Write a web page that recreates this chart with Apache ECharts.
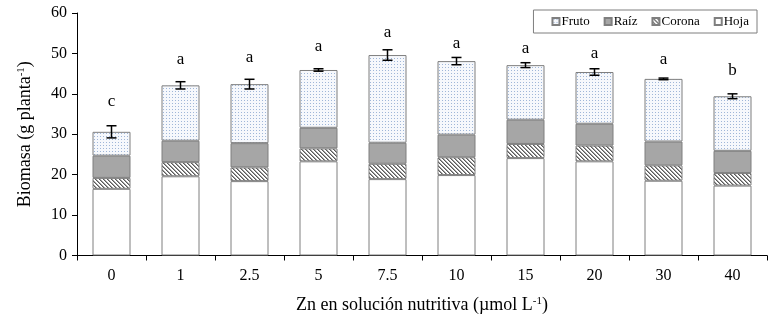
<!DOCTYPE html>
<html>
<head>
<meta charset="utf-8">
<script src="https://cdn.jsdelivr.net/npm/echarts@6/dist/echarts.min.js"></script>
<style>html,body{margin:0;padding:0;background:#fff;}#c{width:784px;height:319px;}</style>
</head>
<body>
<div id="c"></div>
<script>
const categories = ['0','1','2.5','5','7.5','10','15','20','30','40'];
const hoja   = [16.5,19.6,18.4,23.3,18.9,19.9,24.1,23.3,18.5,17.3];
const corona = [2.7,3.5,3.4,3.2,3.8,4.4,3.5,3.9,3.8,3.1];
const raiz   = [5.5,5.3,6.0,5.1,5.2,5.6,6.0,5.4,5.9,5.5];
const fruto  = [5.9,13.7,14.6,14.3,21.7,18.2,13.5,12.8,15.5,13.5];
const errs   = [1.5,0.9,1.2,0.3,1.3,0.9,0.6,0.8,0.2,0.6];
const letters = ['c','a','a','a','a','a','a','a','a','b'];
const letterY = [38.1,48.5,48.9,51.6,55.1,52.5,51.2,49.9,48.5,45.7];

function makeTile(w, h, bg, pixels) {
  const cv = document.createElement('canvas');
  cv.width = w; cv.height = h;
  const ctx = cv.getContext('2d');
  ctx.fillStyle = bg; ctx.fillRect(0, 0, w, h);
  pixels.forEach(p => { ctx.fillStyle = p[2]; ctx.fillRect(p[0], p[1], 1, 1); });
  return cv;
}
const frutoTile = makeTile(3, 3, '#f6f8fc', [[1,1,'#9fb6d8']]);
const coronaTile = makeTile(4, 4, '#ffffff', [
  [0,0,'#5a5a5a'],[1,1,'#5a5a5a'],[2,2,'#5a5a5a'],[3,3,'#5a5a5a'],
  [1,0,'#a0a0a0'],[2,1,'#a0a0a0'],[3,2,'#a0a0a0'],[0,3,'#a0a0a0']
]);

const totals = categories.map((c, i) => hoja[i] + corona[i] + raiz[i] + fruto[i]);
const serif = 'Liberation Serif';
const border = { borderColor: '#7f7f7f', borderWidth: 1 };

const chart = echarts.init(document.getElementById('c'), null, { renderer: 'canvas' });
chart.setOption({
  animation: false,
  backgroundColor: '#fff',
  textStyle: { fontFamily: serif },
  grid: { left: 77, right: 17, top: 13, bottom: 62 },
  legend: {
    data: ['Fruto', 'Raíz', 'Corona', 'Hoja'],
    right: 27, top: 10,
    orient: 'horizontal',
    borderColor: '#7f7f7f', borderWidth: 1,
    padding: [5, 8, 5, 18],
    itemWidth: 7, itemHeight: 7, itemGap: 14,
    icon: 'rect',
    formatter: '{t|{name}}',
    textStyle: {
      fontFamily: serif, fontSize: 13, color: '#000',
      rich: { t: { fontFamily: serif, fontSize: 13, color: '#000', padding: [0, 0, 0, -3] } }
    }
  },
  xAxis: {
    type: 'category',
    data: categories,
    name: 'Zn en solución nutritiva (µmol L{sup|-1})',
    nameLocation: 'middle',
    nameGap: 40,
    nameTextStyle: {
      fontFamily: serif, fontSize: 18, color: '#000',
      rich: { sup: { fontFamily: serif, fontSize: 11, color: '#000', verticalAlign: 'top', padding: [0, 0, 8, 0] } }
    },
    axisLine: { lineStyle: { color: '#000', width: 1 } },
    axisTick: { show: true, length: 5, lineStyle: { color: '#000' } },
    axisLabel: { fontFamily: serif, fontSize: 16, color: '#000', margin: 12 }
  },
  yAxis: {
    type: 'value',
    min: 0, max: 60, interval: 10,
    name: 'Biomasa (g planta{sup|-1})',
    nameLocation: 'middle',
    nameGap: 42,
    nameTextStyle: {
      fontFamily: serif, fontSize: 18, color: '#000',
      rich: { sup: { fontFamily: serif, fontSize: 11, color: '#000', verticalAlign: 'top', padding: [0, 0, 8, 0] } }
    },
    splitLine: { show: false },
    axisLine: { show: true, lineStyle: { color: '#000', width: 1 } },
    axisTick: { show: true, length: 5, lineStyle: { color: '#000' } },
    axisLabel: { fontFamily: serif, fontSize: 16, color: '#000', margin: 10 }
  },
  series: [
    { name: 'Hoja', type: 'bar', stack: 'b', data: hoja, barWidth: 38,
      itemStyle: Object.assign({ color: '#ffffff' }, border) },
    { name: 'Corona', type: 'bar', stack: 'b', data: corona, barWidth: 38,
      itemStyle: Object.assign({ color: { image: coronaTile, repeat: 'repeat' } }, border) },
    { name: 'Raíz', type: 'bar', stack: 'b', data: raiz, barWidth: 38,
      itemStyle: Object.assign({ color: '#a6a6a6' }, border) },
    { name: 'Fruto', type: 'bar', stack: 'b', data: fruto, barWidth: 38,
      itemStyle: Object.assign({ color: { image: frutoTile, repeat: 'repeat' } }, border) },
    {
      name: 'err', type: 'custom',
      data: categories.map((c, i) => [i, totals[i], errs[i], letterY[i]]),
      z: 10,
      renderItem: function (params, api) {
        const i = api.value(0), t = api.value(1), e = api.value(2), ly = api.value(3);
        const top = api.coord([i, t + e]);
        const bot = api.coord([i, t - e]);
        const lp = api.coord([i, ly]);
        const hw = 5;
        const st = { stroke: '#000', lineWidth: 1.5 };
        return {
          type: 'group',
          children: [
            { type: 'line', shape: { x1: top[0], y1: top[1], x2: bot[0], y2: bot[1] }, style: st },
            { type: 'line', shape: { x1: top[0] - hw, y1: top[1], x2: top[0] + hw, y2: top[1] }, style: st },
            { type: 'line', shape: { x1: bot[0] - hw, y1: bot[1], x2: bot[0] + hw, y2: bot[1] }, style: st },
            { type: 'text', x: lp[0], y: lp[1],
              style: { text: letters[params.dataIndex], fill: '#000', font: '17px ' + serif, align: 'center', verticalAlign: 'middle' } }
          ]
        };
      }
    }
  ]
});
</script>
</body>
</html>
